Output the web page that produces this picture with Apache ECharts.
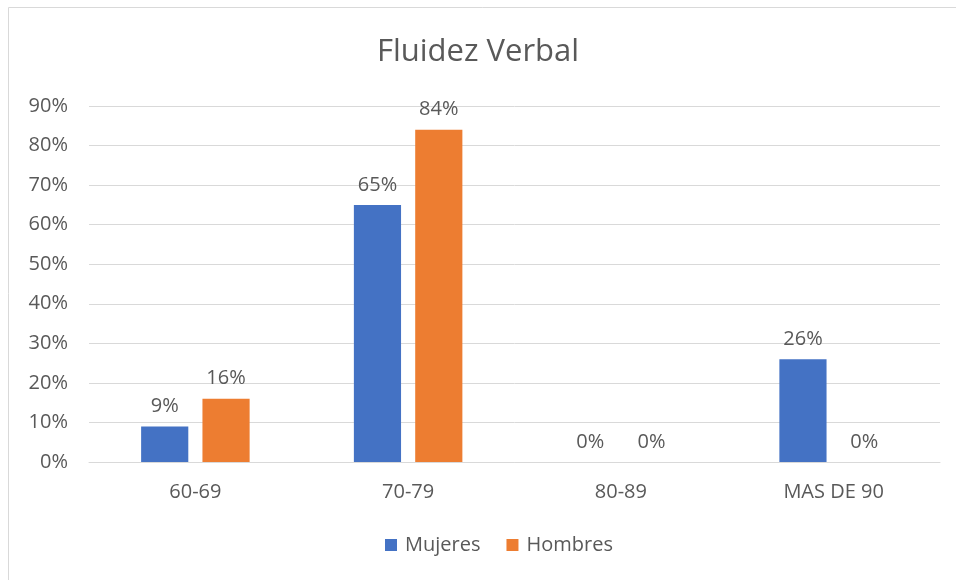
<!DOCTYPE html>
<html>
<head>
<meta charset="utf-8">
<script src="https://cdn.jsdelivr.net/npm/echarts@6/dist/echarts.min.js"></script>
<style>
  html, body { margin: 0; padding: 0; background: #fff; }
  #chart { width: 956px; height: 580px; }
</style>
</head>
<body>
<div id="chart"></div>
<script>
// datos del gráfico
const categories = ['60-69', '70-79', '80-89', 'MAS DE 90']
const mujeres = [9, 65, 0, 26]
const hombres = [16, 84, 0, 0]
const yTicks = { min: 0, max: 90, interval: 10 }

const textColor = '#595959'
const fontFamily = '"Open Sans", "Noto Sans", sans-serif'

const chart = echarts.init(document.getElementById('chart'))

const labelStyle = {
  show: true,
  position: 'top',
  distance: 10,
  color: textColor,
  fontSize: 20,
  fontFamily: fontFamily,
  formatter: p => p.value + '%'
}

const option = {
  animation: false,
  title: {
    text: 'Fluidez Verbal',
    left: 'center',
    top: 32,
    textStyle: { color: textColor, fontSize: 31, fontWeight: 'normal', fontFamily: fontFamily }
  },
  legend: {
    data: ['Mujeres', 'Hombres'],
    bottom: 20,
    left: 380,
    icon: 'rect',
    itemWidth: 12,
    itemHeight: 12,
    itemGap: 26,
    textStyle: { color: textColor, fontSize: 20, fontFamily: fontFamily, padding: [0, 0, 0, 3] }
  },
  grid: {
    left: 89,
    right: 16,
    top: 106,
    bottom: 118
  },
  xAxis: {
    type: 'category',
    data: categories,
    axisTick: { show: false },
    axisLine: { lineStyle: { color: '#d9d9d9', width: 1 } },
    axisLabel: { color: textColor, fontSize: 20, fontFamily: fontFamily, margin: 20 }
  },
  yAxis: {
    type: 'value',
    min: yTicks.min,
    max: yTicks.max,
    interval: yTicks.interval,
    axisLine: { show: false },
    axisTick: { show: false },
    splitLine: { lineStyle: { color: '#d9d9d9', width: 1 } },
    axisLabel: { color: textColor, fontSize: 20, fontFamily: fontFamily, margin: 21, formatter: '{value}%' }
  },
  graphic: [
    { type: 'line', shape: { x1: 8.5, y1: 7.5, x2: 8.5, y2: 580 }, style: { stroke: '#d9d9d9', lineWidth: 1 } },
    { type: 'line', shape: { x1: 8.5, y1: 7.5, x2: 956, y2: 7.5 }, style: { stroke: '#d9d9d9', lineWidth: 1 } }
  ],
  series: [
    {
      name: 'Mujeres',
      type: 'bar',
      data: mujeres,
      barGap: '30%',
      barCategoryGap: '49%',
      itemStyle: { color: '#4472C4' },
      label: labelStyle
    },
    {
      name: 'Hombres',
      type: 'bar',
      data: hombres,
      itemStyle: { color: '#ED7D31' },
      label: labelStyle
    }
  ]
}

chart.setOption(option)
</script>
</body>
</html>
